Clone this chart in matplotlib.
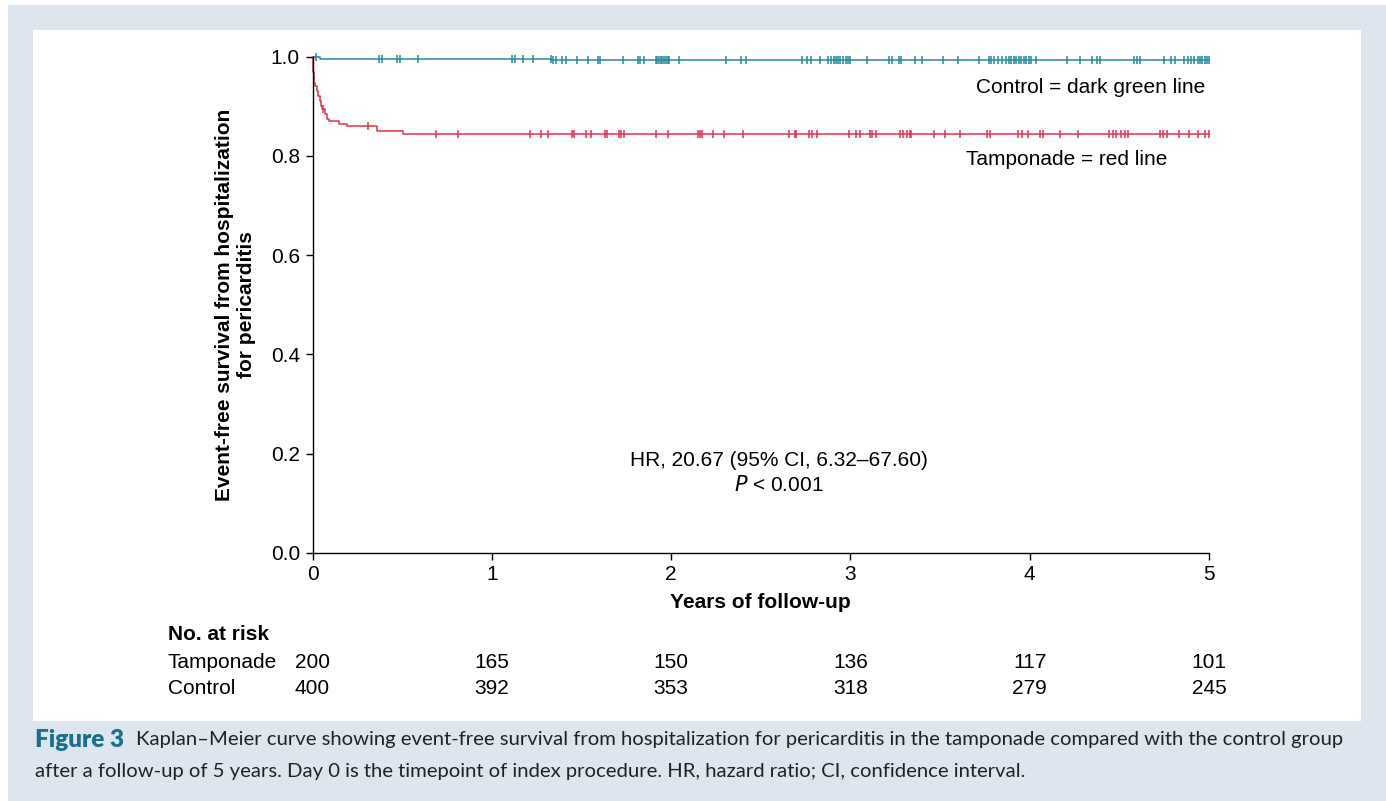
import numpy as np
import matplotlib
matplotlib.use("Agg")
import matplotlib.pyplot as plt
from matplotlib.patches import Rectangle
from matplotlib.transforms import blended_transform_factory

plt.rcParams['font.family'] = ['Liberation Sans', 'DejaVu Sans']

# Kaplan-Meier step data (years, survival after step)
tamp_t = [0, 0.002, 0.004, 0.006, 0.008, 0.015, 0.025, 0.03, 0.04, 0.045,
          0.055, 0.07, 0.08, 0.09, 0.15, 0.19, 0.36, 0.505]
tamp_s = [1.0, 0.985, 0.97, 0.955, 0.946, 0.94, 0.93, 0.92, 0.91, 0.90,
          0.895, 0.885, 0.875, 0.87, 0.865, 0.86, 0.851, 0.845]
ctrl_t = [0, 0.04, 1.33]
ctrl_s = [1.0, 0.995, 0.9925]

# censored observations (years)
tamp_cens = [0.056, 0.31, 0.69, 0.81, 1.213, 1.274, 1.311, 1.445, 1.459, 1.525,
             1.556, 1.630, 1.645, 1.710, 1.723, 1.736, 1.918, 1.983, 2.151, 2.160,
             2.175, 2.231, 2.294, 2.402, 2.658, 2.690, 2.695, 2.770, 2.788, 2.814,
             2.993, 3.033, 3.052, 3.108, 3.122, 3.141, 3.275, 3.293, 3.316, 3.331,
             3.340, 3.464, 3.526, 3.609, 3.762, 3.780, 3.934, 3.959, 3.990, 4.059,
             4.074, 4.170, 4.269, 4.445, 4.464, 4.482, 4.510, 4.529, 4.548, 4.724,
             4.743, 4.765, 4.832, 4.891, 4.938, 4.980, 5.0]
ctrl_cens = [0.02, 0.372, 0.386, 0.473, 0.488, 0.586, 1.114, 1.129, 1.172, 1.231,
             1.328, 1.339, 1.358, 1.389, 1.413, 1.473, 1.534, 1.593, 1.606, 1.733,
             1.813, 1.829, 1.848, 1.913, 1.924, 1.933, 1.943, 1.952, 1.961, 1.970,
             1.980, 1.987, 2.045, 2.305, 2.392, 2.420, 2.732, 2.758, 2.782, 2.829,
             2.875, 2.894, 2.907, 2.918, 2.931, 2.944, 2.959, 2.974, 2.987, 2.996,
             3.093, 3.215, 3.234, 3.271, 3.284, 3.358, 3.401, 3.516, 3.600, 3.717,
             3.773, 3.786, 3.799, 3.823, 3.847, 3.869, 3.884, 3.897, 3.910, 3.925,
             3.938, 3.953, 3.966, 3.981, 3.994, 4.005, 4.033, 4.207, 4.278, 4.347,
             4.375, 4.393, 4.579, 4.598, 4.616, 4.748, 4.789, 4.808, 4.863, 4.882,
             4.901, 4.919, 4.938, 4.951, 4.962, 4.975, 4.988, 4.999]

risk_years = [0, 1, 2, 3, 4, 5]
risk_tamp = [200, 165, 150, 136, 117, 101]
risk_ctrl = [400, 392, 353, 318, 279, 245]

TEAL = '#1f8c9b'
RED = '#e3304e'

W, H = 1386, 801
fig = plt.figure(figsize=(W / 100, H / 100), dpi=100)
fig.patch.set_facecolor('white')
fig.patches.append(Rectangle((8 / W, 0), 1, 1 - 5 / H, transform=fig.transFigure,
                             facecolor='#dde6ef', edgecolor='none', zorder=-2))
fig.patches.append(Rectangle((33 / W, 1 - 721 / H), (1361 - 33) / W, (721 - 30) / H,
                             transform=fig.transFigure, facecolor='white',
                             edgecolor='none', zorder=-1))

ax = fig.add_axes([312.5 / W, 1 - 552.7 / H, (1209 - 312.5) / W, (552.7 - 56.7) / H])
ax.set_facecolor('none')


def km_line(t, s, cens, color):
    tt = list(t) + [5.0]
    ss = list(s) + [s[-1]]
    ax.step(tt, ss, where='post', color=color, lw=1.1, clip_on=False)
    idx = np.searchsorted(t, cens, side='right') - 1
    ax.plot(cens, np.array(s)[idx], ls='none', marker='|', ms=6, mew=1.1,
            color=color, clip_on=False)


km_line(ctrl_t, ctrl_s, ctrl_cens, TEAL)
km_line(tamp_t, tamp_s, tamp_cens, RED)

ax.set_xlim(0, 5)
ax.set_ylim(0, 1.0)
ax.set_xticks(range(6))
ax.set_yticks(np.arange(0, 1.01, 0.2))
ax.set_yticklabels(['%.1f' % v for v in np.arange(0, 1.01, 0.2)])
ax.tick_params(direction='out', length=5, width=1, labelsize=15, pad=4)
for side in ['top', 'right']:
    ax.spines[side].set_visible(False)
for side in ['left', 'bottom']:
    ax.spines[side].set_linewidth(1)

ax.set_xlabel('Years of follow-up', fontsize=15, fontweight='bold', labelpad=6)
fig.text(236 / W, 1 - 305 / H, 'Event-free survival from hospitalization\nfor pericarditis',
         rotation=90, ha='center', va='center', fontsize=15, fontweight='bold',
         multialignment='center', linespacing=1.2)

ax.text(4.98, 0.937, 'Control = dark green line', ha='right', va='center', fontsize=15)
ax.text(4.77, 0.792, 'Tamponade = red line', ha='right', va='center', fontsize=15)
ax.text(2.6, 0.186, 'HR, 20.67 (95% CI, 6.32\u201367.60)', ha='center', va='center', fontsize=15)
ax.text(2.6, 0.137, '$P$ < 0.001', ha='center', va='center', fontsize=15)

# number at risk table
tr = blended_transform_factory(ax.transData, fig.transFigure)
fig.text(168 / W, 1 - 635 / H, 'No. at risk', fontsize=15, fontweight='bold', va='center')
fig.text(168 / W, 1 - 663 / H, 'Tamponade', fontsize=15, va='center')
fig.text(168 / W, 1 - 689 / H, 'Control', fontsize=15, va='center')
for yr, a, b in zip(risk_years, risk_tamp, risk_ctrl):
    ax.text(yr, 1 - 663 / H, str(a), transform=tr, ha='center', va='center', fontsize=15)
    ax.text(yr, 1 - 689 / H, str(b), transform=tr, ha='center', va='center', fontsize=15)

# caption
cap1 = ('Kaplan\u2013Meier curve showing event-free survival from hospitalization for '
        'pericarditis in the tamponade compared with the control group')
cap2 = ('after a follow-up of 5 years. Day 0 is the timepoint of index procedure. '
        'HR, hazard ratio; CI, confidence interval.')
fig_lbl = fig.text(35 / W, 1 - 740 / H, 'Figure 3', fontsize=17.5, fontweight='heavy',
                   color='#1a6f8c', va='center', family='Lato')
fig.canvas.draw()
bb = fig_lbl.get_window_extent()
fig.text((bb.x1 + 12) / W, 1 - 740 / H, cap1, fontsize=14.6, va='center',
         family='Lato', color='#222222')
fig.text(35 / W, 1 - 771 / H, cap2, fontsize=14.6, va='center', family='Lato',
         color='#222222')

fig.savefig('out.png', dpi=100, facecolor=fig.get_facecolor())
